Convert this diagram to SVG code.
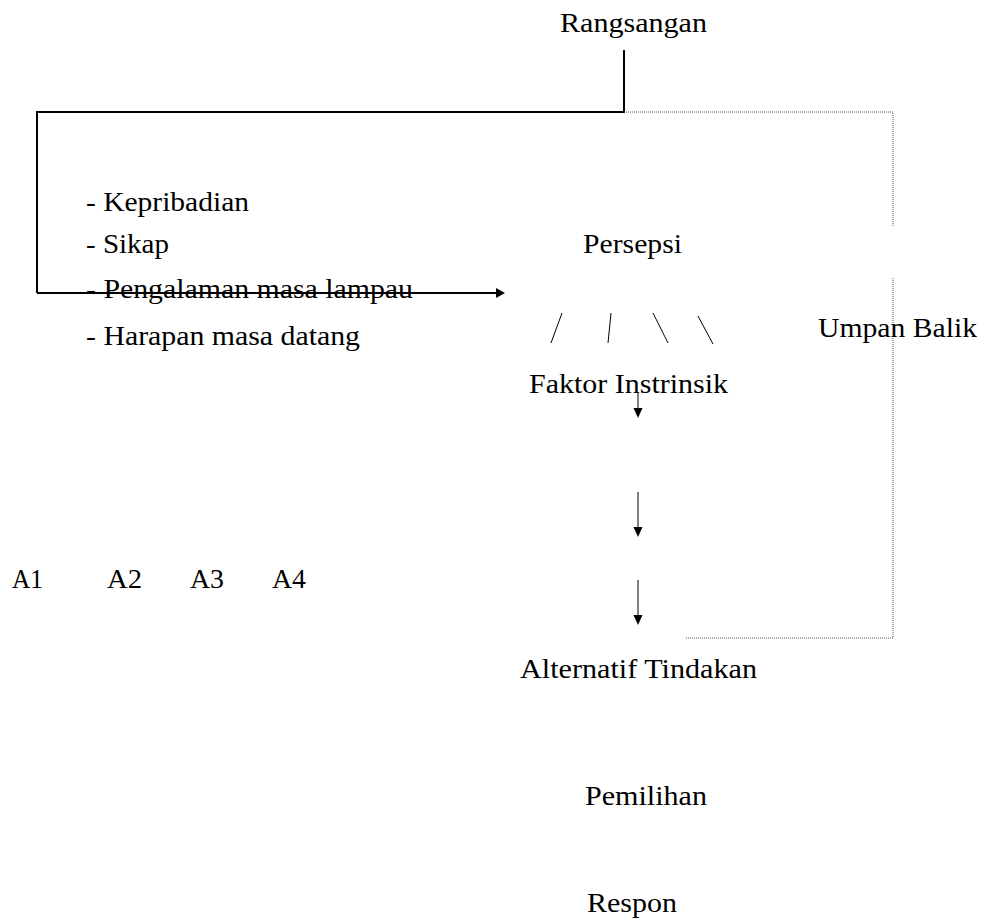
<svg xmlns="http://www.w3.org/2000/svg" width="982" height="918" viewBox="0 0 982 918">
<defs>
<path id="ahh" d="M-9,-5 L0,0 L-9,5 Z" fill="#000"/>
<path id="ahv" d="M-4.5,-10 L0,0 L4.5,-10 Z" fill="#000"/>
</defs>
<rect width="982" height="918" fill="#fff"/>
<g id="connectors" fill="none">
<polyline stroke="#000" stroke-width="2" points="624,50 624,112 37,112 37,293"/>
<line stroke="#000" stroke-width="2" x1="37" y1="293" x2="497" y2="293"/>
<use href="#ahh" x="505" y="293"/>
<polyline stroke="#555" stroke-width="1" stroke-dasharray="1 1" points="624,112 893,112 893,226"/>
<polyline stroke="#555" stroke-width="1" stroke-dasharray="1 1" points="893,278 893,638 686,638"/>
<g stroke="#000" stroke-width="1">
<line x1="551" y1="343" x2="562" y2="313"/>
<line x1="608" y1="343" x2="611" y2="313"/>
<line x1="653" y1="313" x2="668" y2="343"/>
<line x1="698" y1="316" x2="713" y2="344"/>
<line x1="638" y1="392" x2="638" y2="410"/>
<line x1="638" y1="492" x2="638" y2="529"/>
<line x1="638" y1="580" x2="638" y2="617"/>
</g>
<use href="#ahv" x="638" y="418"/>
<use href="#ahv" x="638" y="537"/>
<use href="#ahv" x="638" y="625"/>
</g>
<g font-family="Liberation Serif, Times New Roman, serif" font-size="27" fill="#000">
<g id="rangsangan"><text x="560" y="32" textLength="147" lengthAdjust="spacingAndGlyphs">Rangsangan</text></g>
<g id="faktor-list">
<text x="86" y="211" textLength="163" lengthAdjust="spacingAndGlyphs">- Kepribadian</text>
<text x="86" y="253" textLength="83" lengthAdjust="spacingAndGlyphs">- Sikap</text>
<text x="86" y="298" textLength="327" lengthAdjust="spacingAndGlyphs">- Pengalaman masa lampau</text>
<text x="86" y="345" textLength="274" lengthAdjust="spacingAndGlyphs">- Harapan masa datang</text>
</g>
<g id="persepsi"><text x="583" y="253" textLength="99" lengthAdjust="spacingAndGlyphs">Persepsi</text></g>
<g id="umpan-balik"><text x="818" y="337" textLength="159" lengthAdjust="spacingAndGlyphs">Umpan Balik</text></g>
<g id="faktor-instrinsik"><text x="529" y="393" textLength="199" lengthAdjust="spacingAndGlyphs">Faktor Instrinsik</text></g>
<g id="alternatives">
<text x="12" y="588" textLength="31" lengthAdjust="spacingAndGlyphs">A1</text>
<text x="107" y="588" textLength="35" lengthAdjust="spacingAndGlyphs">A2</text>
<text x="190" y="588" textLength="34" lengthAdjust="spacingAndGlyphs">A3</text>
<text x="272" y="588" textLength="34" lengthAdjust="spacingAndGlyphs">A4</text>
</g>
<g id="alternatif-tindakan"><text x="520" y="678" textLength="237" lengthAdjust="spacingAndGlyphs">Alternatif Tindakan</text></g>
<g id="pemilihan"><text x="585" y="805" textLength="122" lengthAdjust="spacingAndGlyphs">Pemilihan</text></g>
<g id="respon"><text x="587" y="912" textLength="90" lengthAdjust="spacingAndGlyphs">Respon</text></g>
</g>
</svg>
